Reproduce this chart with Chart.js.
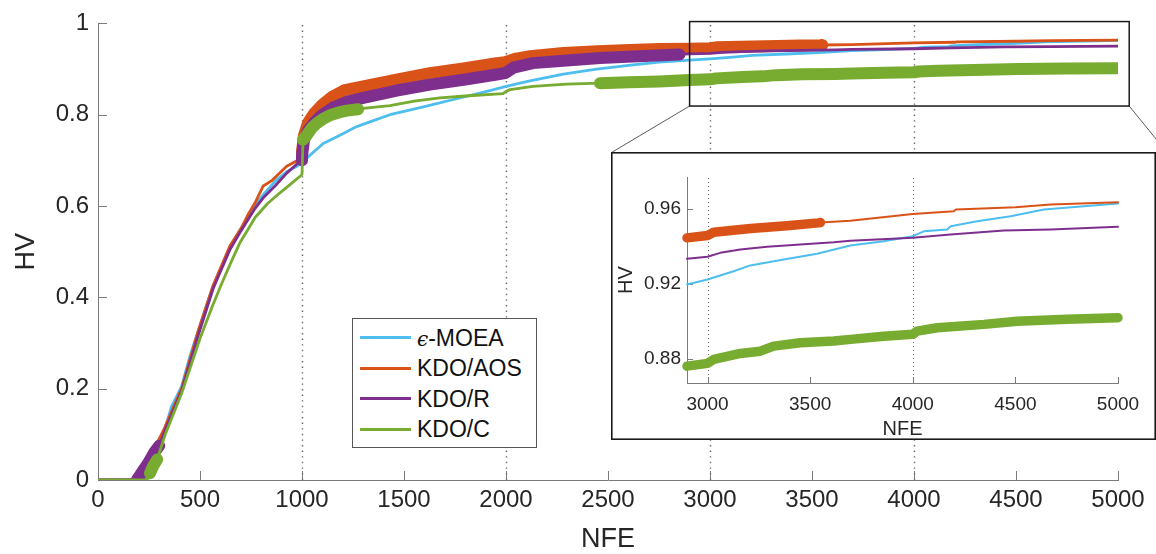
<!DOCTYPE html>
<html>
<head>
<meta charset="utf-8">
<script src="https://cdn.jsdelivr.net/npm/chart.js@4.4.1/dist/chart.umd.min.js"></script>
<style>
html,body{margin:0;padding:0;background:#fff;}
#wrap{position:relative;width:1156px;height:554px;overflow:hidden;font-family:'Liberation Sans',Arial,sans-serif;}
#main{position:absolute;left:0;top:0;}
#insetBox{position:absolute;left:611px;top:152px;width:545px;height:288px;background:#fff;}
#inset{position:absolute;left:0;top:0;}
#legend{position:absolute;left:352px;top:318px;width:185px;height:130px;border:1px solid #555;background:#fff;box-sizing:border-box;}
.item{position:absolute;left:0;width:183px;height:30px;}
.swatch{position:absolute;left:7px;top:13.5px;width:51px;height:3px;}
.txt{position:absolute;left:64px;top:0;line-height:30px;font-size:23px;color:#111;white-space:nowrap;}
.eps{font-family:'DejaVu Serif',serif;font-style:italic;font-size:20px;}
</style>
</head>
<body>
<div id="wrap">
  <canvas id="main" width="1156" height="554"></canvas>
  <div id="insetBox"><canvas id="inset" width="545" height="288"></canvas></div>
  <div id="legend"></div>
</div>
<script>
// ---------------- data ----------------
const seriesNames = ['\u03F5-MOEA', 'KDO/AOS', 'KDO/R', 'KDO/C'];

const moeaNFE = [0,230,250,280,320,360,410,450,490,530,565,610,647,700,770,810,870,925,975,1000,1023,1104,1186,1268,1350,1431,1595,1758,1921,2000,2069,2118,2281,2444,2623,2750,2900,3000,3127,3208,3371,3534,3696,3859,4000,4054,4168,4184,4314,4477,4639,4834,5000];
const moeaHV  = [0,0,0.015,0.05,0.10,0.16,0.205,0.27,0.325,0.38,0.425,0.47,0.51,0.55,0.6,0.625,0.655,0.675,0.687,0.695,0.705,0.737,0.755,0.774,0.787,0.80,0.817,0.835,0.853,0.862,0.869,0.874,0.889,0.90,0.909,0.915,0.9196,0.9223,0.9267,0.9298,0.933,0.936,0.9404,0.9427,0.9454,0.948,0.949,0.9507,0.9534,0.956,0.9596,0.9614,0.9628];
const moeaBold = [];

const aosNFE = [0,200,210,255,320,410,490,565,647,700,740,770,810,850,925,1000,1000,1010,1030,1060,1100,1150,1210,1300,1464,1627,1800,1954,1995,2050,2118,2281,2450,2608,2750,2900,3000,3030,3210,3387,3541,3550,3696,4000,4200,4210,4500,4672,5000];
const aosHV  = [0,0,0.01,0.05,0.108,0.2,0.325,0.427,0.513,0.55,0.585,0.607,0.644,0.655,0.687,0.705,0.72,0.755,0.783,0.803,0.822,0.84,0.854,0.862,0.877,0.891,0.902,0.913,0.915,0.923,0.928,0.935,0.939,0.942,0.944,0.9445,0.9458,0.9475,0.9495,0.951,0.9525,0.9527,0.9537,0.9573,0.9587,0.9596,0.9609,0.9623,0.9635];
const aosBold = [[1000, 3550]];

const rNFE = [0,190,220,250,275,300,330,410,490,565,647,700,770,810,870,925,970,1000,1000,1010,1030,1060,1100,1150,1219,1300,1464,1627,1800,1954,1995,2036,2132,2281,2461,2650,2850,2900,3000,3062,3160,3290,3452,3615,3696,4000,4184,4444,4672,5000];
const rHV  = [0,0,0.02,0.04,0.06,0.075,0.11,0.195,0.315,0.42,0.505,0.545,0.595,0.618,0.645,0.672,0.69,0.70,0.71,0.745,0.765,0.783,0.80,0.815,0.828,0.837,0.853,0.866,0.877,0.888,0.891,0.903,0.913,0.918,0.924,0.928,0.932,0.9333,0.9344,0.9365,0.9383,0.9397,0.941,0.9422,0.943,0.9445,0.9463,0.9484,0.949,0.9504];
const rBold = [[190, 300], [1000, 2850]];

const cNFE = [0,240,255,270,290,330,410,500,560,606,650,696,730,770,830,892,950,995,1000,1005,1023,1050,1072,1100,1137,1180,1219,1275,1300,1431,1550,1676,1800,1985,2000,2020,2132,2297,2461,2600,2750,2900,3000,3030,3160,3257,3322,3452,3615,3696,3859,4000,4021,4119,4347,4509,4750,5000];
const cHV  = [0,0,0.015,0.03,0.045,0.10,0.19,0.31,0.38,0.43,0.475,0.52,0.545,0.575,0.605,0.629,0.65,0.667,0.669,0.745,0.755,0.772,0.781,0.79,0.799,0.805,0.809,0.812,0.814,0.82,0.83,0.837,0.841,0.846,0.851,0.855,0.862,0.867,0.869,0.871,0.873,0.876,0.8775,0.8796,0.8828,0.884,0.8867,0.8885,0.8894,0.8903,0.892,0.893,0.8947,0.8965,0.8983,0.9,0.901,0.9019];
const cBold = [[255, 290], [1005, 1275], [2461, 5000]];

const mainXTicks  = [0,500,1000,1500,2000,2500,3000,3500,4000,4500,5000];
const mainYTicks  = [0,0.2,0.4,0.6,0.8,1];
const insetXTicks = [3000,3500,4000,4500,5000];
const insetYTicks = [0.88,0.92,0.96];
const refLinesNFE = [1000,2000,3000,4000];
const zoomRegionNFE = [2900, 5055];
const zoomRegionHV  = [0.819, 1.004];
const insetRangeNFE = [2900, 5000];
const insetRangeHV  = [0.867, 0.977];

// ---------------- styles ----------------
const colors = ['#4DBEEE', '#D95319', '#7E2F8E', '#77AC30'];
const series = [
  {name: seriesNames[0], nfe: moeaNFE, hv: moeaHV, bold: moeaBold, color: colors[0]},
  {name: seriesNames[1], nfe: aosNFE,  hv: aosHV,  bold: aosBold,  color: colors[1]},
  {name: seriesNames[2], nfe: rNFE,    hv: rHV,    bold: rBold,    color: colors[2]},
  {name: seriesNames[3], nfe: cNFE,    hv: cHV,    bold: cBold,    color: colors[3]}
];
const FONT = "'Liberation Sans', Arial, sans-serif";
const TXT = '#262626';
const AXIS = '#7a7a7a';

function pts(s, lo, hi) {
  const out = [];
  for (let i = 0; i < s.nfe.length; i++) {
    if (s.nfe[i] >= lo && s.nfe[i] <= hi) out.push({x: s.nfe[i], y: s.hv[i]});
  }
  return out;
}

function buildDatasets(lo, thinW, boldW) {
  const ds = [];
  const n = series.length;
  series.forEach((s, k) => {
    const base = 2 * (n - 1 - k);
    ds.push({
      label: s.name, data: pts(s, lo, Infinity), borderColor: s.color, backgroundColor: s.color,
      borderWidth: thinW, order: base + 1, pointRadius: 0, tension: 0, fill: false,
      borderCapStyle: 'round', borderJoinStyle: 'round', isBold: false
    });
    const d = [];
    let prevHi = null;
    s.bold.forEach(r => {
      const seg = pts(s, Math.max(lo, r[0]), r[1]);
      if (!seg.length) return;
      if (prevHi !== null) d.push({x: (prevHi + r[0]) / 2, y: null});
      d.push(...seg);
      prevHi = r[1];
    });
    if (d.length) {
      ds.push({
        label: s.name + ' (highlight)', data: d, borderColor: s.color, backgroundColor: s.color,
        borderWidth: boldW, order: base, pointRadius: 0, tension: 0, fill: false, spanGaps: false,
        borderCapStyle: 'round', borderJoinStyle: 'round', isBold: true
      });
    }
  });
  return ds;
}

// axis decorations: dotted reference lines and inward ticks
const decor = {
  id: 'decor',
  beforeDatasetsDraw(chart, args, opts) {
    const {ctx, chartArea: a, scales: {x, y}} = chart;
    ctx.save();
    ctx.strokeStyle = '#666';
    ctx.lineWidth = opts.refWidth;
    ctx.setLineDash(opts.dash);
    refLinesNFE.forEach(v => {
      if (v < x.min || v > x.max) return;
      const px = Math.round(x.getPixelForValue(v)) + 0.5;
      ctx.beginPath(); ctx.moveTo(px, a.bottom); ctx.lineTo(px, a.top); ctx.stroke();
    });
    ctx.setLineDash([]);
    ctx.strokeStyle = AXIS;
    ctx.lineWidth = 1;
    x.ticks.forEach(t => {
      const px = Math.round(x.getPixelForValue(t.value)) + 0.5;
      ctx.beginPath(); ctx.moveTo(px, a.bottom); ctx.lineTo(px, a.bottom - opts.tickLen); ctx.stroke();
    });
    y.ticks.forEach(t => {
      const py = Math.round(y.getPixelForValue(t.value)) + 0.5;
      ctx.beginPath(); ctx.moveTo(a.left, py); ctx.lineTo(a.left + opts.tickLen, py); ctx.stroke();
    });
    ctx.restore();
  },
  afterDraw(chart, args, opts) {
    const {ctx, scales: {x, y}} = chart;
    ctx.save();
    if (opts.zoomBox) {
      const x1 = x.getPixelForValue(zoomRegionNFE[0]), x2 = x.getPixelForValue(zoomRegionNFE[1]);
      const y1 = y.getPixelForValue(zoomRegionHV[1]), y2 = y.getPixelForValue(zoomRegionHV[0]);
      ctx.strokeStyle = '#5a5a5a';
      ctx.lineWidth = 1;
      ctx.beginPath(); ctx.moveTo(x1, y2); ctx.lineTo(611.5, 152.5); ctx.stroke();
      ctx.beginPath(); ctx.moveTo(x2, y2); ctx.lineTo(1167, 152.5); ctx.stroke();
      ctx.strokeStyle = '#1a1a1a';
      ctx.lineWidth = 1.5;
      ctx.strokeRect(x1, y1, x2 - x1, y2 - y1);
    }
    if (opts.frame) {
      ctx.strokeStyle = '#1a1a1a';
      ctx.lineWidth = 1.6;
      ctx.strokeRect(0.8, 0.8, chart.width - 1.6, chart.height - 1.6);
    }
    ctx.restore();
  }
};

function axisOpts(cfg) {
  return {
    type: 'linear', min: cfg.min, max: cfg.max,
    afterBuildTicks: s => { s.ticks = cfg.ticks.map(v => ({value: v})); },
    afterFit: s => { if (cfg.width) s.width = cfg.width; if (cfg.height) s.height = cfg.height; },
    grid: {display: false, drawTicks: false},
    border: {display: true, color: AXIS, width: 1},
    ticks: {
      autoSkip: false, maxRotation: 0, padding: cfg.pad, color: TXT,
      font: {family: FONT, size: cfg.tickSize},
      callback: v => String(v)
    },
    title: {
      display: true, text: cfg.title, color: TXT,
      font: {family: FONT, size: cfg.titleSize, lineHeight: cfg.titleLH},
      padding: cfg.titlePad
    }
  };
}

const mainChart = new Chart(document.getElementById('main'), {
  type: 'line',
  data: {datasets: buildDatasets(-Infinity, 2.8, 12)},
  options: {
    responsive: false, animation: false, devicePixelRatio: 1,
    layout: {padding: {left: 0, right: 38, top: 19, bottom: 0}},
    plugins: {legend: {display: false}, tooltip: {enabled: false},
      decor: {tickLen: 9, refWidth: 1.4, dash: [1.4, 4.2], zoomBox: true, frame: false}},
    scales: {
      x: axisOpts({min: 0, max: 5000, ticks: mainXTicks, height: 74, pad: 6, tickSize: 24,
        title: 'NFE', titleSize: 27, titleLH: 1.1, titlePad: {top: 0, bottom: 0}}),
      y: axisOpts({min: 0, max: 1, ticks: mainYTicks, width: 98, pad: 9, tickSize: 24,
        title: 'HV', titleSize: 27, titleLH: 1.2, titlePad: {top: 10, bottom: 0}})
    }
  },
  plugins: [decor]
});

const insetChart = new Chart(document.getElementById('inset'), {
  type: 'line',
  data: {datasets: buildDatasets(insetRangeNFE[0], 2, 9.5)},
  options: {
    responsive: false, animation: false, devicePixelRatio: 1,
    layout: {padding: {left: 0, right: 38, top: 25, bottom: 0}},
    plugins: {legend: {display: false}, tooltip: {enabled: false},
      decor: {tickLen: 6, refWidth: 1, dash: [1, 3], zoomBox: false, frame: true}},
    scales: {
      x: axisOpts({min: insetRangeNFE[0], max: insetRangeNFE[1], ticks: insetXTicks, height: 57, pad: 10, tickSize: 19,
        title: 'NFE', titleSize: 20, titleLH: 1.1, titlePad: {top: 0, bottom: 0}}),
      y: axisOpts({min: insetRangeHV[0], max: insetRangeHV[1], ticks: insetYTicks, width: 76, pad: 6, tickSize: 19,
        title: 'HV', titleSize: 20, titleLH: 1.2, titlePad: {top: 3, bottom: 0}})
    }
  },
  plugins: [decor]
});
insetChart.data.datasets.forEach(d => { d.clip = false; });
insetChart.update();

// HTML legend built from the chart's own datasets
const legendEl = document.getElementById('legend');
mainChart.data.datasets.filter(d => !d.isBold).forEach((d, i) => {
  const item = document.createElement('div');
  item.className = 'item';
  item.style.top = (3.5 + 30.5 * i) + 'px';
  const sw = document.createElement('div');
  sw.className = 'swatch';
  sw.style.background = d.borderColor;
  const tx = document.createElement('div');
  tx.className = 'txt';
  if (d.label.charAt(0) === '\u03F5') {
    const e = document.createElement('span');
    e.className = 'eps';
    e.textContent = '\u03F5';
    tx.appendChild(e);
    tx.appendChild(document.createTextNode(d.label.slice(1)));
  } else {
    tx.textContent = d.label;
  }
  item.appendChild(sw);
  item.appendChild(tx);
  legendEl.appendChild(item);
});
</script>
</body>
</html>
